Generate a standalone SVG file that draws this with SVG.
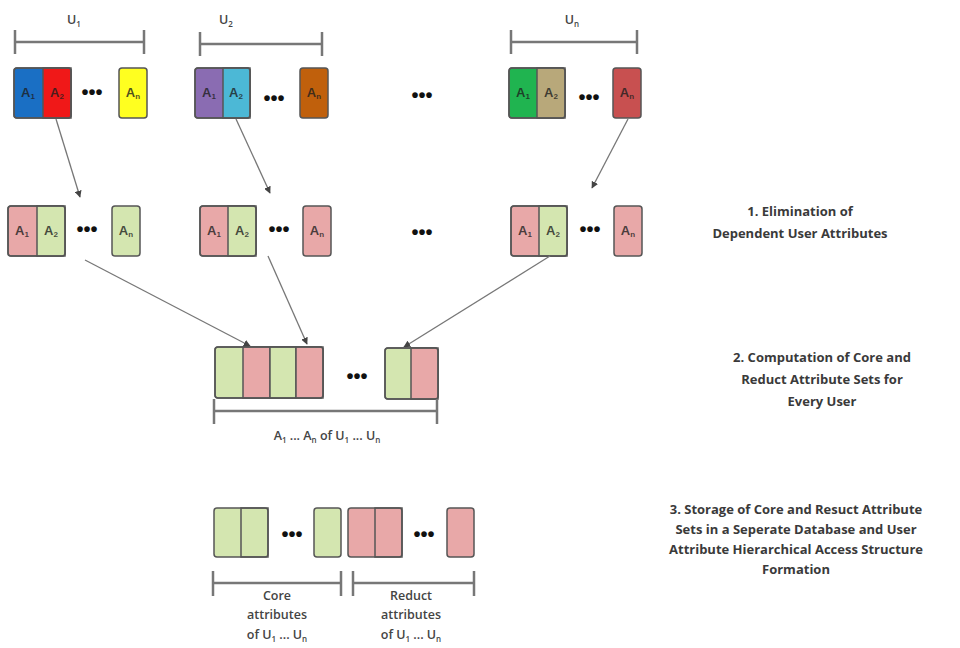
<svg xmlns="http://www.w3.org/2000/svg" width="960" height="648" viewBox="0 0 960 648">
<defs>
<marker id="ah" viewBox="0 0 10 10" refX="9" refY="5" markerWidth="7" markerHeight="7" orient="auto" markerUnits="userSpaceOnUse">
<path d="M0,0 L10,5 L0,10 z" fill="#444"/>
</marker>
</defs>
<style>
.cell{stroke:#555;stroke-width:1.5}
.g{fill:#d4e6b0}
.p{fill:#e8a8a8}
.lbl{font-family:"Liberation Sans",Arial,sans-serif;font-size:13px;font-weight:bold;fill:#1e1e1e;fill-opacity:0.8;text-anchor:middle}
.sub{font-size:8px}
.dots{font-family:"Liberation Sans",Arial,sans-serif;font-size:20px;font-weight:bold;fill:#111;text-anchor:middle}
.br{stroke:#777;stroke-width:2.5;fill:none}
.bt{font-family:"Open Sans",sans-serif;font-size:12.5px;font-weight:600;fill:#444;text-anchor:middle}
.step{font-family:"Open Sans",sans-serif;font-size:13px;font-weight:700;fill:#3a3a3a;text-anchor:middle}
.con{stroke:#777;stroke-width:1.3;fill:none;marker-end:url(#ah)}
</style>
<rect width="960" height="648" fill="#fff"/>

<!-- Top brackets -->
<g id="u1">
<path class="br" d="M15,42 H144 M15,30 V54 M144,30 V54"/>
<text class="bt" x="74" y="24">U<tspan class="sub" dy="3">1</tspan></text>
</g>
<g id="u2">
<path class="br" d="M200,44 H322 M200,32 V56 M322,32 V56"/>
<text class="bt" x="226" y="24">U<tspan class="sub" dy="3">2</tspan></text>
</g>
<g id="un">
<path class="br" d="M511,42 H637 M511,30 V54 M637,30 V54"/>
<text class="bt" x="572" y="24">U<tspan class="sub" dy="3">n</tspan></text>
</g>

<!-- Row 1 -->
<g id="r1u1">
<rect class="cell" x="14" y="68" width="57" height="50" rx="3" fill="#1a6fc4"/>
<rect class="cell" x="43" y="68" width="28" height="50" fill="#f01818"/>
<rect class="cell" x="14" y="68" width="57" height="50" rx="3" fill="none"/>
<text class="lbl" x="28" y="97">A<tspan class="sub" dy="2">1</tspan></text>
<text class="lbl" x="57" y="97">A<tspan class="sub" dy="2">2</tspan></text>
<text class="dots" x="92" y="99">•••</text>
<rect class="cell" x="119" y="68" width="28" height="50" rx="3" fill="#ffff20"/>
<text class="lbl" x="133" y="97">A<tspan class="sub" dy="2">n</tspan></text>
</g>
<g id="r1u2">
<rect class="cell" x="195" y="68" width="55" height="50" rx="3" fill="#8a6cb2"/>
<rect class="cell" x="223" y="68" width="27" height="50" fill="#4cb8d6"/>
<rect class="cell" x="195" y="68" width="55" height="50" rx="3" fill="none"/>
<text class="lbl" x="209" y="97">A<tspan class="sub" dy="2">1</tspan></text>
<text class="lbl" x="236" y="97">A<tspan class="sub" dy="2">2</tspan></text>
<text class="dots" x="274" y="105">•••</text>
<rect class="cell" x="300" y="68" width="28" height="50" rx="3" fill="#c0600c"/>
<text class="lbl" x="314" y="97">A<tspan class="sub" dy="2">n</tspan></text>
</g>
<text class="dots" x="422" y="102">•••</text>
<g id="r1un">
<rect class="cell" x="509" y="68" width="56" height="50" rx="3" fill="#20b450"/>
<rect class="cell" x="537" y="68" width="28" height="50" fill="#b8a87a"/>
<rect class="cell" x="509" y="68" width="56" height="50" rx="3" fill="none"/>
<text class="lbl" x="523" y="97">A<tspan class="sub" dy="2">1</tspan></text>
<text class="lbl" x="551" y="97">A<tspan class="sub" dy="2">2</tspan></text>
<text class="dots" x="589" y="104">•••</text>
<rect class="cell" x="613" y="68" width="28" height="50" rx="3" fill="#c85050"/>
<text class="lbl" x="627" y="97">A<tspan class="sub" dy="2">n</tspan></text>
</g>

<!-- Row 2 -->
<g id="r2u1">
<rect class="cell p" x="8" y="206" width="57" height="50" rx="3"/>
<rect class="cell g" x="37" y="206" width="28" height="50"/>
<rect class="cell" x="8" y="206" width="57" height="50" rx="3" fill="none"/>
<text class="lbl" x="22" y="235">A<tspan class="sub" dy="2">1</tspan></text>
<text class="lbl" x="51" y="235">A<tspan class="sub" dy="2">2</tspan></text>
<text class="dots" x="87" y="236">•••</text>
<rect class="cell g" x="112" y="206" width="28" height="50" rx="3"/>
<text class="lbl" x="126" y="235">A<tspan class="sub" dy="2">n</tspan></text>
</g>
<g id="r2u2">
<rect class="cell p" x="200" y="206" width="56" height="50" rx="3"/>
<rect class="cell g" x="228" y="206" width="28" height="50"/>
<rect class="cell" x="200" y="206" width="56" height="50" rx="3" fill="none"/>
<text class="lbl" x="214" y="235">A<tspan class="sub" dy="2">1</tspan></text>
<text class="lbl" x="242" y="235">A<tspan class="sub" dy="2">2</tspan></text>
<text class="dots" x="279" y="236">•••</text>
<rect class="cell p" x="303" y="206" width="28" height="50" rx="3"/>
<text class="lbl" x="317" y="235">A<tspan class="sub" dy="2">n</tspan></text>
</g>
<text class="dots" x="422" y="239">•••</text>
<g id="r2un">
<rect class="cell p" x="511" y="206" width="56" height="50" rx="3"/>
<rect class="cell g" x="539" y="206" width="28" height="50"/>
<rect class="cell" x="511" y="206" width="56" height="50" rx="3" fill="none"/>
<text class="lbl" x="525" y="235">A<tspan class="sub" dy="2">1</tspan></text>
<text class="lbl" x="553" y="235">A<tspan class="sub" dy="2">2</tspan></text>
<text class="dots" x="590" y="236">•••</text>
<rect class="cell p" x="614" y="206" width="28" height="50" rx="3"/>
<text class="lbl" x="628" y="235">A<tspan class="sub" dy="2">n</tspan></text>
</g>
<g id="step1">
<text class="step" x="800" y="216">1. Elimination of</text>
<text class="step" x="800" y="238">Dependent User Attributes</text>
</g>

<!-- Row 3 -->
<g id="r3">
<rect class="cell g" x="215" y="347" width="108" height="51" rx="3"/>
<rect class="cell p" x="243" y="347" width="27" height="51"/>
<rect class="cell g" x="270" y="347" width="26" height="51"/>
<rect class="cell p" x="296" y="347" width="27" height="51"/>
<rect class="cell" x="215" y="347" width="108" height="51" rx="3" fill="none"/>
<text class="dots" x="357" y="383">•••</text>
<rect class="cell g" x="385" y="348" width="53" height="51" rx="3"/>
<rect class="cell p" x="411" y="348" width="27" height="51"/>
<rect class="cell" x="385" y="348" width="53" height="51" rx="3" fill="none"/>
<path class="br" d="M214,411 H437 M214,399 V424 M437,399 V424"/>
<text class="bt" x="327" y="440">A<tspan class="sub" dy="3">1</tspan><tspan dy="-3"> ... A</tspan><tspan class="sub" dy="3">n</tspan><tspan dy="-3"> of U</tspan><tspan class="sub" dy="3">1</tspan><tspan dy="-3"> ... U</tspan><tspan class="sub" dy="3">n</tspan></text>
</g>
<g id="step2">
<text class="step" x="822" y="362">2. Computation of Core and</text>
<text class="step" x="822" y="384">Reduct Attribute Sets for</text>
<text class="step" x="822" y="406">Every User</text>
</g>

<!-- Row 4 -->
<g id="r4core">
<rect class="cell g" x="214" y="508" width="54" height="49" rx="3"/>
<rect class="cell" x="241" y="508" width="27" height="49" fill="none"/>
<text class="dots" x="292" y="541">•••</text>
<rect class="cell g" x="314" y="508" width="27" height="49" rx="3"/>
<path class="br" d="M213,583 H341 M213,571 V596 M341,571 V596"/>
<text class="bt" x="277" y="600">Core</text>
<text class="bt" x="277" y="619">attributes</text>
<text class="bt" x="277" y="639">of U<tspan class="sub" dy="3">1</tspan><tspan dy="-3"> ... U</tspan><tspan class="sub" dy="3">n</tspan></text>
</g>
<g id="r4reduct">
<rect class="cell p" x="348" y="508" width="54" height="49" rx="3"/>
<rect class="cell" x="375" y="508" width="27" height="49" fill="none"/>
<text class="dots" x="424" y="541">•••</text>
<rect class="cell p" x="447" y="508" width="27" height="49" rx="3"/>
<path class="br" d="M353,583 H474 M353,571 V596 M474,571 V596"/>
<text class="bt" x="411" y="600">Reduct</text>
<text class="bt" x="411" y="619">attributes</text>
<text class="bt" x="411" y="639">of U<tspan class="sub" dy="3">1</tspan><tspan dy="-3"> ... U</tspan><tspan class="sub" dy="3">n</tspan></text>
</g>
<g id="step3">
<text class="step" x="796" y="514">3. Storage of Core and Resuct Attribute</text>
<text class="step" x="796" y="534">Sets in a Seperate Database and User</text>
<text class="step" x="796" y="554">Attribute Hierarchical Access Structure</text>
<text class="step" x="796" y="574">Formation</text>
</g>

<!-- Connectors -->
<g id="connectors">
<line class="con" x1="56" y1="119" x2="80" y2="197"/>
<line class="con" x1="236" y1="119" x2="270" y2="193"/>
<line class="con" x1="628" y1="119" x2="592" y2="188"/>
<line class="con" x1="85" y1="260" x2="250" y2="346"/>
<line class="con" x1="268" y1="256" x2="307" y2="344"/>
<line class="con" x1="550" y1="256" x2="404" y2="347"/>
</g>
</svg>
